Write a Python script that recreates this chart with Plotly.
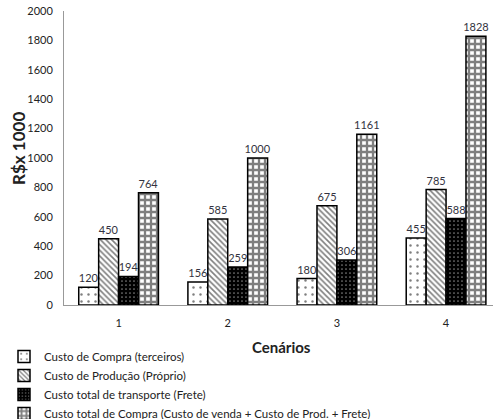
import plotly.graph_objects as go

cenarios = ["1", "2", "3", "4"]
compra_terceiros = [120, 156, 180, 455]
producao_propria = [450, 585, 675, 785]
transporte_frete = [194, 259, 306, 588]
compra_total = [764, 1000, 1161, 1828]

names = [
    "Custo de Compra (terceiros)",
    "Custo de Produção (Próprio)",
    "Custo total de transporte (Frete)",
    "Custo total de Compra (Custo de venda + Custo de Prod. + Frete)",
]
yticks = [0, 200, 400, 600, 800, 1000, 1200, 1400, 1600, 1800, 2000]

FONT = "Lato"
W, H = 493, 419
L, T, B = 64, 11, 114
PW, PH = W - L, H - T - B

series = [compra_terceiros, producao_propria, transporte_frete, compra_total]
patterns = [
    dict(shape=".", fgcolor="black", bgcolor="white", size=7, solidity=0.1),
    dict(shape="\\", fgcolor="black", bgcolor="white", size=4, solidity=0.4),
    dict(shape=".", fgcolor="white", bgcolor="black", size=4, solidity=0.15),
    dict(shape="+", fgcolor="black", bgcolor="white", size=6, solidity=0.62),
]

fig = go.Figure()
for nm, vals, pat in zip(names, series, patterns):
    fig.add_trace(go.Bar(
        x=cenarios, y=vals, name=nm,
        marker=dict(color="white", pattern=pat, line=dict(color="black", width=1.5)),
        text=[str(v) for v in vals], textposition="outside",
        constraintext="none",
        textfont=dict(family=FONT, size=11, color="#333340"),
        cliponaxis=False,
    ))

fig.update_layout(
    width=W, height=H,
    margin=dict(l=L, r=0, t=T, b=B, autoexpand=False),
    paper_bgcolor="white", plot_bgcolor="white",
    barmode="group", bargap=0.27, bargroupgap=0,
    font=dict(family=FONT, size=11, color="#222"),
    showlegend=True,
    legend=dict(
        xref="container", yref="container",
        x=4 / W, y=1 - 342 / H, xanchor="left", yanchor="top",
        font=dict(family=FONT, size=11.5, color="#222"),
        itemwidth=30, tracegroupgap=0, bgcolor="rgba(0,0,0,0)",
    ),
    xaxis=dict(
        type="category", range=[-0.5, 3.43],
        showline=True, linecolor="#999", linewidth=1,
        ticks="", ticklabelstandoff=8,
        tickfont=dict(family=FONT, size=11, color="#222"),
        showgrid=False,
    ),
    yaxis=dict(
        range=[0, 2000], tickvals=yticks,
        showline=True, linecolor="#999", linewidth=1,
        ticks="", ticklabelstandoff=8, showgrid=False, zeroline=False,
        tickfont=dict(family=FONT, size=11, color="#222"),
    ),
    annotations=[
        dict(text="<b>Cenários</b>", xref="paper", yref="paper",
             x=(281 - L) / PW, y=-(347 - (T + PH)) / PH, xanchor="center", yanchor="middle",
             showarrow=False, font=dict(family=FONT, size=15, color="#222")),
        dict(text="<b>R$x 1000</b>", xref="paper", yref="paper",
             x=(18 - L) / PW, y=1 - (149 - T) / PH, xanchor="center", yanchor="middle",
             textangle=-90, showarrow=False, font=dict(family=FONT, size=17, color="#222")),
    ],
)

# remove the default 8px page margin so the figure fills the window exactly
fig.write_html("out.html", config={"displayModeBar": False},
               post_script="document.body.style.margin='0';")
